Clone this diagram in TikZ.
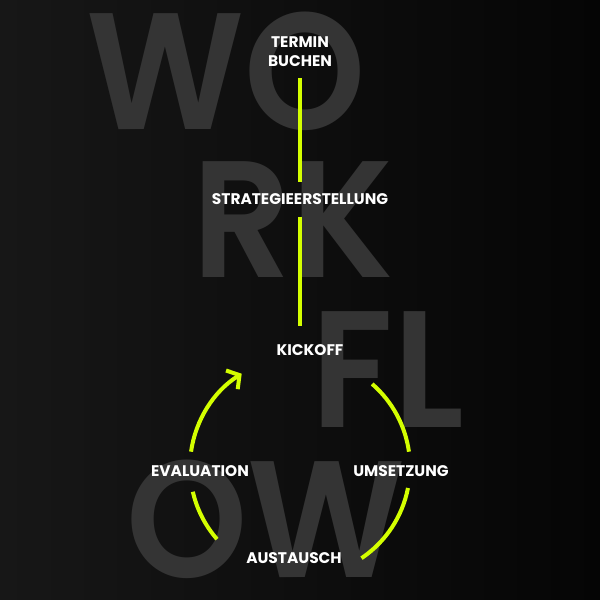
\documentclass[tikz,border=0pt]{standalone}
\usepackage{fontspec}
\setmainfont{Poppins}
\newfontfamily\bigfont{Poppins SemiBold}
\usetikzlibrary{arrows.meta}

\definecolor{lime}{RGB}{212,255,0}
\definecolor{bigtext}{RGB}{52,52,52}
\definecolor{bglight}{RGB}{23,23,23}
\definecolor{bgdark}{RGB}{5,5,5}

\begin{document}
\begin{tikzpicture}[x=1pt,y=1pt]

        \fill[left color=bglight,right color=bgdark] (0,0) rectangle (600,600);
        \useasboundingbox (0,0) rectangle (600,600);

        \begin{scope}[every node/.style={anchor=base west,inner sep=0pt,xscale=0.93,transform shape,text=bigtext,font={\fontsize{166}{166}\bigfont}}]
            \node (w1) at (86,470) {WO};
            \node (w2) at (192,322) {RK};
            \node (w3) at (311,172) {FL};
            \node (w4) at (126,22) {OW};
        \end{scope}

        \begin{scope}[every node/.style={inner sep=0pt,text=white,align=center,font={\fontsize{15.4}{19}\selectfont\bfseries}}]
            \node (1) at (300,548) {TERMIN\\BUCHEN};
            \node (2) at (300,401) {STRATEGIEERSTELLUNG};
            \node (3) at (310,250) {KICKOFF};
            \node (4) at (401,129) {UMSETZUNG};
            \node (5) at (294,42) {AUSTAUSCH};
            \node (6) at (200,129) {EVALUATION};
        \end{scope}

        \coordinate (c) at (300,133);

        \begin{scope}[every path/.style={draw=lime,line width=4pt}]
            \path (1.south) edge [shorten <=11pt,shorten >=11pt] (2.north);
            \path (2.south) edge [shorten <=12pt,shorten >=18pt] (2.south |- 3.north);

            \path ([shift={(49:110)}]c) arc[start angle=49,end angle=8,radius=110];
            \path ([shift={(-11:110)}]c) arc[start angle=-11,end angle=-56,radius=110];
            \path ([shift={(-139:110)}]c) arc[start angle=-139,end angle=-167,radius=110];
            \path [-{Straight Barb[length=9pt,width=22pt]}] ([shift={(172:110)}]c) arc[start angle=172,end angle=122,radius=110];
        \end{scope}

    \end{tikzpicture}
\end{document}
